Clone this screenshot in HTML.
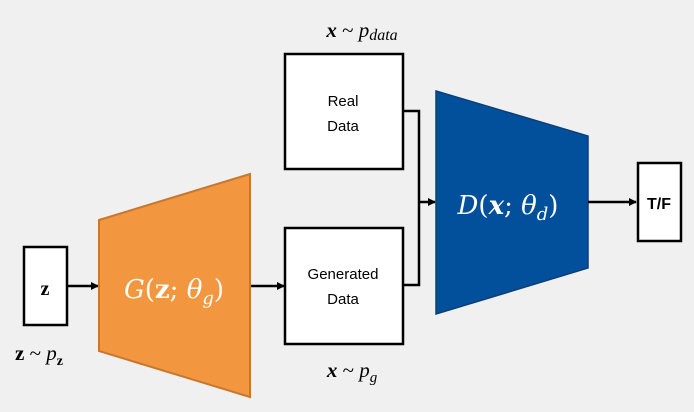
<!DOCTYPE html>
<html><head><style>
body{margin:0;background:#f0f0f0;}
svg{display:block}
.m{font-family:"DejaVu Serif","Liberation Serif",serif;font-style:italic}
.s{font-family:"Liberation Sans",sans-serif}
</style></head><body>
<svg width="694" height="412" viewBox="0 0 694 412" xmlns="http://www.w3.org/2000/svg">
<defs><marker id="a" markerWidth="8" markerHeight="8" refX="7" refY="4" orient="auto" markerUnits="userSpaceOnUse"><path d="M0,0 L8,4 L0,8 z" fill="#000"/></marker></defs>
<rect width="694" height="412" fill="#f0f0f0"/>
<!-- z box -->
<rect x="24" y="247" width="43" height="78" fill="#fff" stroke="#000" stroke-width="2.5"/>
<text x="45" y="295" text-anchor="middle" font-family="Liberation Serif,serif" font-weight="bold" font-size="20">z</text>
<text x="15" y="360" font-family="Liberation Serif,serif" font-size="21"><tspan font-weight="bold">z</tspan> ~ <tspan font-style="italic">p</tspan><tspan font-weight="bold" font-size="14" dy="5">z</tspan></text>
<!-- arrows -->
<line x1="67" y1="286" x2="98" y2="286" stroke="#000" stroke-width="2.5" marker-end="url(#a)"/>
<line x1="251" y1="286" x2="284" y2="286" stroke="#000" stroke-width="2.5" marker-end="url(#a)"/>
<!-- G -->
<polygon points="99,220 250,174 250,397 99,351" fill="#f39640" stroke="#c8782e" stroke-width="2"/>
<text x="174" y="298" text-anchor="middle" fill="#fff" font-family="DejaVu Serif,serif" font-size="26"><tspan font-style="italic">G</tspan>(<tspan font-weight="bold">z</tspan>; <tspan font-style="italic">θ</tspan><tspan font-style="italic" font-size="18" dy="6">g</tspan><tspan dy="-6">)</tspan></text>
<!-- Real Data -->
<rect x="285" y="54" width="118" height="115" fill="#fff" stroke="#000" stroke-width="2.5"/>
<text x="343" y="106" text-anchor="middle" class="s" font-size="15">Real</text>
<text x="343" y="131" text-anchor="middle" class="s" font-size="15">Data</text>
<!-- Generated -->
<rect x="285" y="228" width="118" height="116" fill="#fff" stroke="#000" stroke-width="2.5"/>
<text x="343" y="279" text-anchor="middle" class="s" font-size="15">Generated</text>
<text x="343" y="304" text-anchor="middle" class="s" font-size="15">Data</text>
<text x="362" y="37" text-anchor="middle" font-family="Liberation Serif,serif" font-size="21"><tspan font-weight="bold" font-style="italic">x</tspan> ~ <tspan font-style="italic">p</tspan><tspan font-style="italic" font-size="16" dy="3">data</tspan></text>
<text x="352" y="377" text-anchor="middle" font-family="Liberation Serif,serif" font-size="21"><tspan font-weight="bold" font-style="italic">x</tspan> ~ <tspan font-style="italic">p</tspan><tspan font-style="italic" font-size="15" dy="5">g</tspan></text>
<!-- connector -->
<polyline points="403,111 419,111 419,285 403,285" fill="none" stroke="#000" stroke-width="2.5"/>
<line x1="419" y1="202" x2="435" y2="202" stroke="#000" stroke-width="2.5" marker-end="url(#a)"/>
<!-- D -->
<polygon points="436,91 588,136 588,268 436,314" fill="#02509c" stroke="#0a3f7a" stroke-width="1.5"/>
<text x="508" y="214" text-anchor="middle" fill="#fff" font-family="DejaVu Serif,serif" font-size="26"><tspan font-style="italic">D</tspan>(<tspan font-weight="bold" font-style="italic">x</tspan>; <tspan font-style="italic">θ</tspan><tspan font-style="italic" font-size="18" dy="6">d</tspan><tspan dy="-6">)</tspan></text>
<line x1="588" y1="202" x2="636" y2="202" stroke="#000" stroke-width="2.5" marker-end="url(#a)"/>
<!-- T/F -->
<rect x="638" y="163" width="43" height="78" fill="#fff" stroke="#000" stroke-width="2.5"/>
<text x="659" y="209" text-anchor="middle" class="s" font-weight="bold" font-size="16">T/F</text>
</svg>
</body></html>
